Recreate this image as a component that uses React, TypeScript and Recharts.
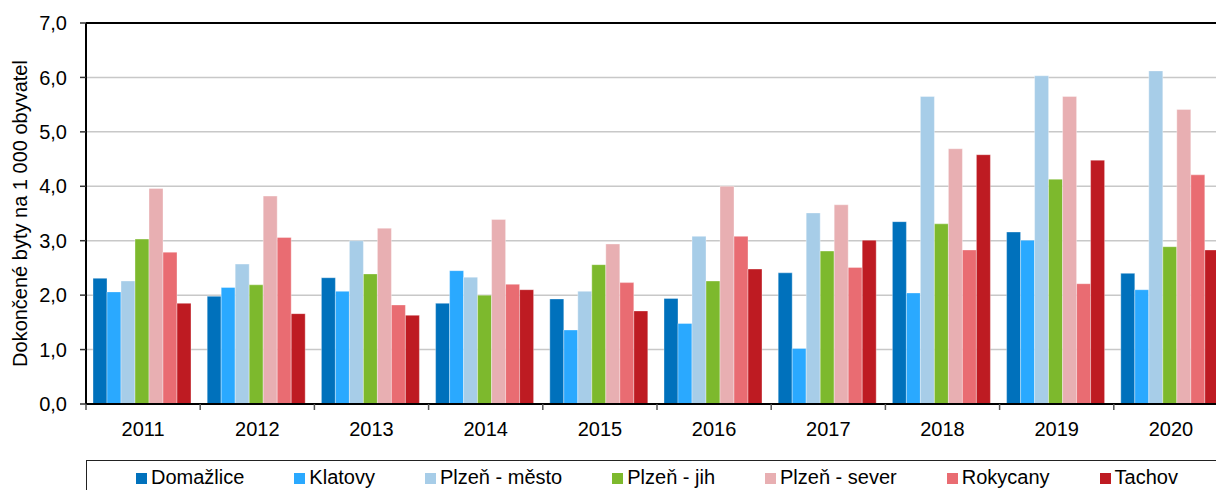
import React from 'react';
import { BarChart, Bar, XAxis, YAxis, CartesianGrid, Legend, ReferenceLine } from 'recharts';

const years = ['2011', '2012', '2013', '2014', '2015', '2016', '2017', '2018', '2019', '2020'];
const domazlice = [2.31, 1.98, 2.32, 1.85, 1.93, 1.94, 2.41, 3.35, 3.16, 2.4];
const klatovy = [2.06, 2.14, 2.07, 2.45, 1.36, 1.48, 1.02, 2.04, 3.01, 2.1];
const plzenMesto = [2.26, 2.57, 3.0, 2.33, 2.07, 3.08, 3.51, 5.65, 6.03, 6.12];
const plzenJih = [3.03, 2.19, 2.39, 2.0, 2.56, 2.26, 2.81, 3.31, 4.13, 2.89];
const plzenSever = [3.96, 3.82, 3.23, 3.39, 2.94, 4.0, 3.66, 4.69, 5.65, 5.41];
const rokycany = [2.79, 3.06, 1.82, 2.2, 2.23, 3.08, 2.51, 2.83, 2.21, 4.21];
const tachov = [1.85, 1.66, 1.63, 2.1, 1.71, 2.48, 3.01, 4.58, 4.48, 2.83];
const yTicks = [0, 1, 2, 3, 4, 5, 6, 7];

const seriesNames = ['Domažlice', 'Klatovy', 'Plzeň - město', 'Plzeň - jih', 'Plzeň - sever', 'Rokycany', 'Tachov'];
const seriesValues = [domazlice, klatovy, plzenMesto, plzenJih, plzenSever, rokycany, tachov];
const seriesColors = ['#0071BC', '#2AA9FF', '#A7CDE8', '#7DB92D', '#E8AFB2', '#E96C72', '#BE1B22'];

const data = years.map((y, i) => {
  const row: Record<string, string | number> = { year: y };
  seriesNames.forEach((n, s) => {
    row[n] = seriesValues[s][i];
  });
  return row;
});

const FONT = "'Liberation Sans', Arial, sans-serif";

const XTick = (props: any) => {
  const { x, y, payload } = props;
  const half = payload && typeof payload.offset === 'number' && payload.offset > 0 ? payload.offset : 57;
  return (
    <g>
      <line x1={x - half} x2={x - half} y1={y} y2={y + 6} stroke="#555" strokeWidth={1.5} />
      <text x={x} y={y + 32} textAnchor="middle" fontSize={20} fill="#000" fontFamily={FONT}>
        {payload.value}
      </text>
    </g>
  );
};

const LegendContent = () => (
  <div
    style={{
      boxSizing: 'border-box',
      height: 40,
      width: 1160,
      margin: 0,
      borderTop: '1.5px solid #222',
      borderLeft: '1.5px solid #222',
      paddingTop: 6,
      paddingLeft: 49,
      display: 'flex',
      flexDirection: 'row',
      alignItems: 'flex-start',
      gap: 50,
      fontFamily: FONT,
      fontSize: 20,
      lineHeight: '20px',
      color: '#000',
    }}
  >
    {seriesNames.map((n, i) => (
      <div key={n} style={{ display: 'flex', alignItems: 'center', whiteSpace: 'nowrap', height: 20 }}>
        <span style={{ display: 'inline-block', width: 11, height: 11, background: seriesColors[i], marginRight: 4, marginTop: 2 }} />
        <span>{n}</span>
      </div>
    ))}
  </div>
);

const YTitle = () => (
  <text
    x={27}
    y={213.5}
    transform="rotate(-90, 27, 213.5)"
    textAnchor="middle"
    fontSize={20}
    fontFamily={FONT}
    fill="#000"
  >
    Dokončené byty na 1 000 obyvatel
  </text>
);

export default function App() {
  return (
    <div style={{ position: 'absolute', left: 0, top: 0, width: 1216, height: 490, overflow: 'hidden', background: '#fff' }}>
      <BarChart
        width={1240}
        height={490}
        data={data}
        margin={{ top: 23, right: 12, left: 0, bottom: 0 }}
        barCategoryGap={7}
        barGap={0}
      >
        <CartesianGrid vertical={false} stroke="#c8c8c8" strokeWidth={1.5} />
        <XAxis
          dataKey="year"
          height={46}
          tickSize={0}
          tickMargin={0}
          tickLine={false}
          axisLine={{ stroke: '#000', strokeWidth: 2 }}
          tick={<XTick />}
          interval={0}
        />
        <YAxis
          width={86}
          domain={[0, 7]}
          ticks={yTicks}
          interval={0}
          tickSize={6}
          tickMargin={13}
          tickLine={{ stroke: '#333', strokeWidth: 1.5 }}
          axisLine={{ stroke: '#000', strokeWidth: 2 }}
          tickFormatter={(v: number) => v.toFixed(1).replace('.', ',')}
          tick={{ fontSize: 20, fill: '#000', fontFamily: FONT }}
          label={<YTitle />}
        />
        <ReferenceLine y={7} stroke="#000" strokeWidth={2} />
        {seriesNames.map((n, i) => (
          <Bar
            key={n}
            dataKey={n}
            fill={seriesColors[i]}
            stroke="#ffffff"
            strokeOpacity={0.35}
            strokeWidth={1}
            isAnimationActive={false}
          />
        ))}
        <Legend content={<LegendContent />} wrapperStyle={{ position: 'absolute', left: 86, top: 460, width: 1160 }} />
      </BarChart>
    </div>
  );
}
